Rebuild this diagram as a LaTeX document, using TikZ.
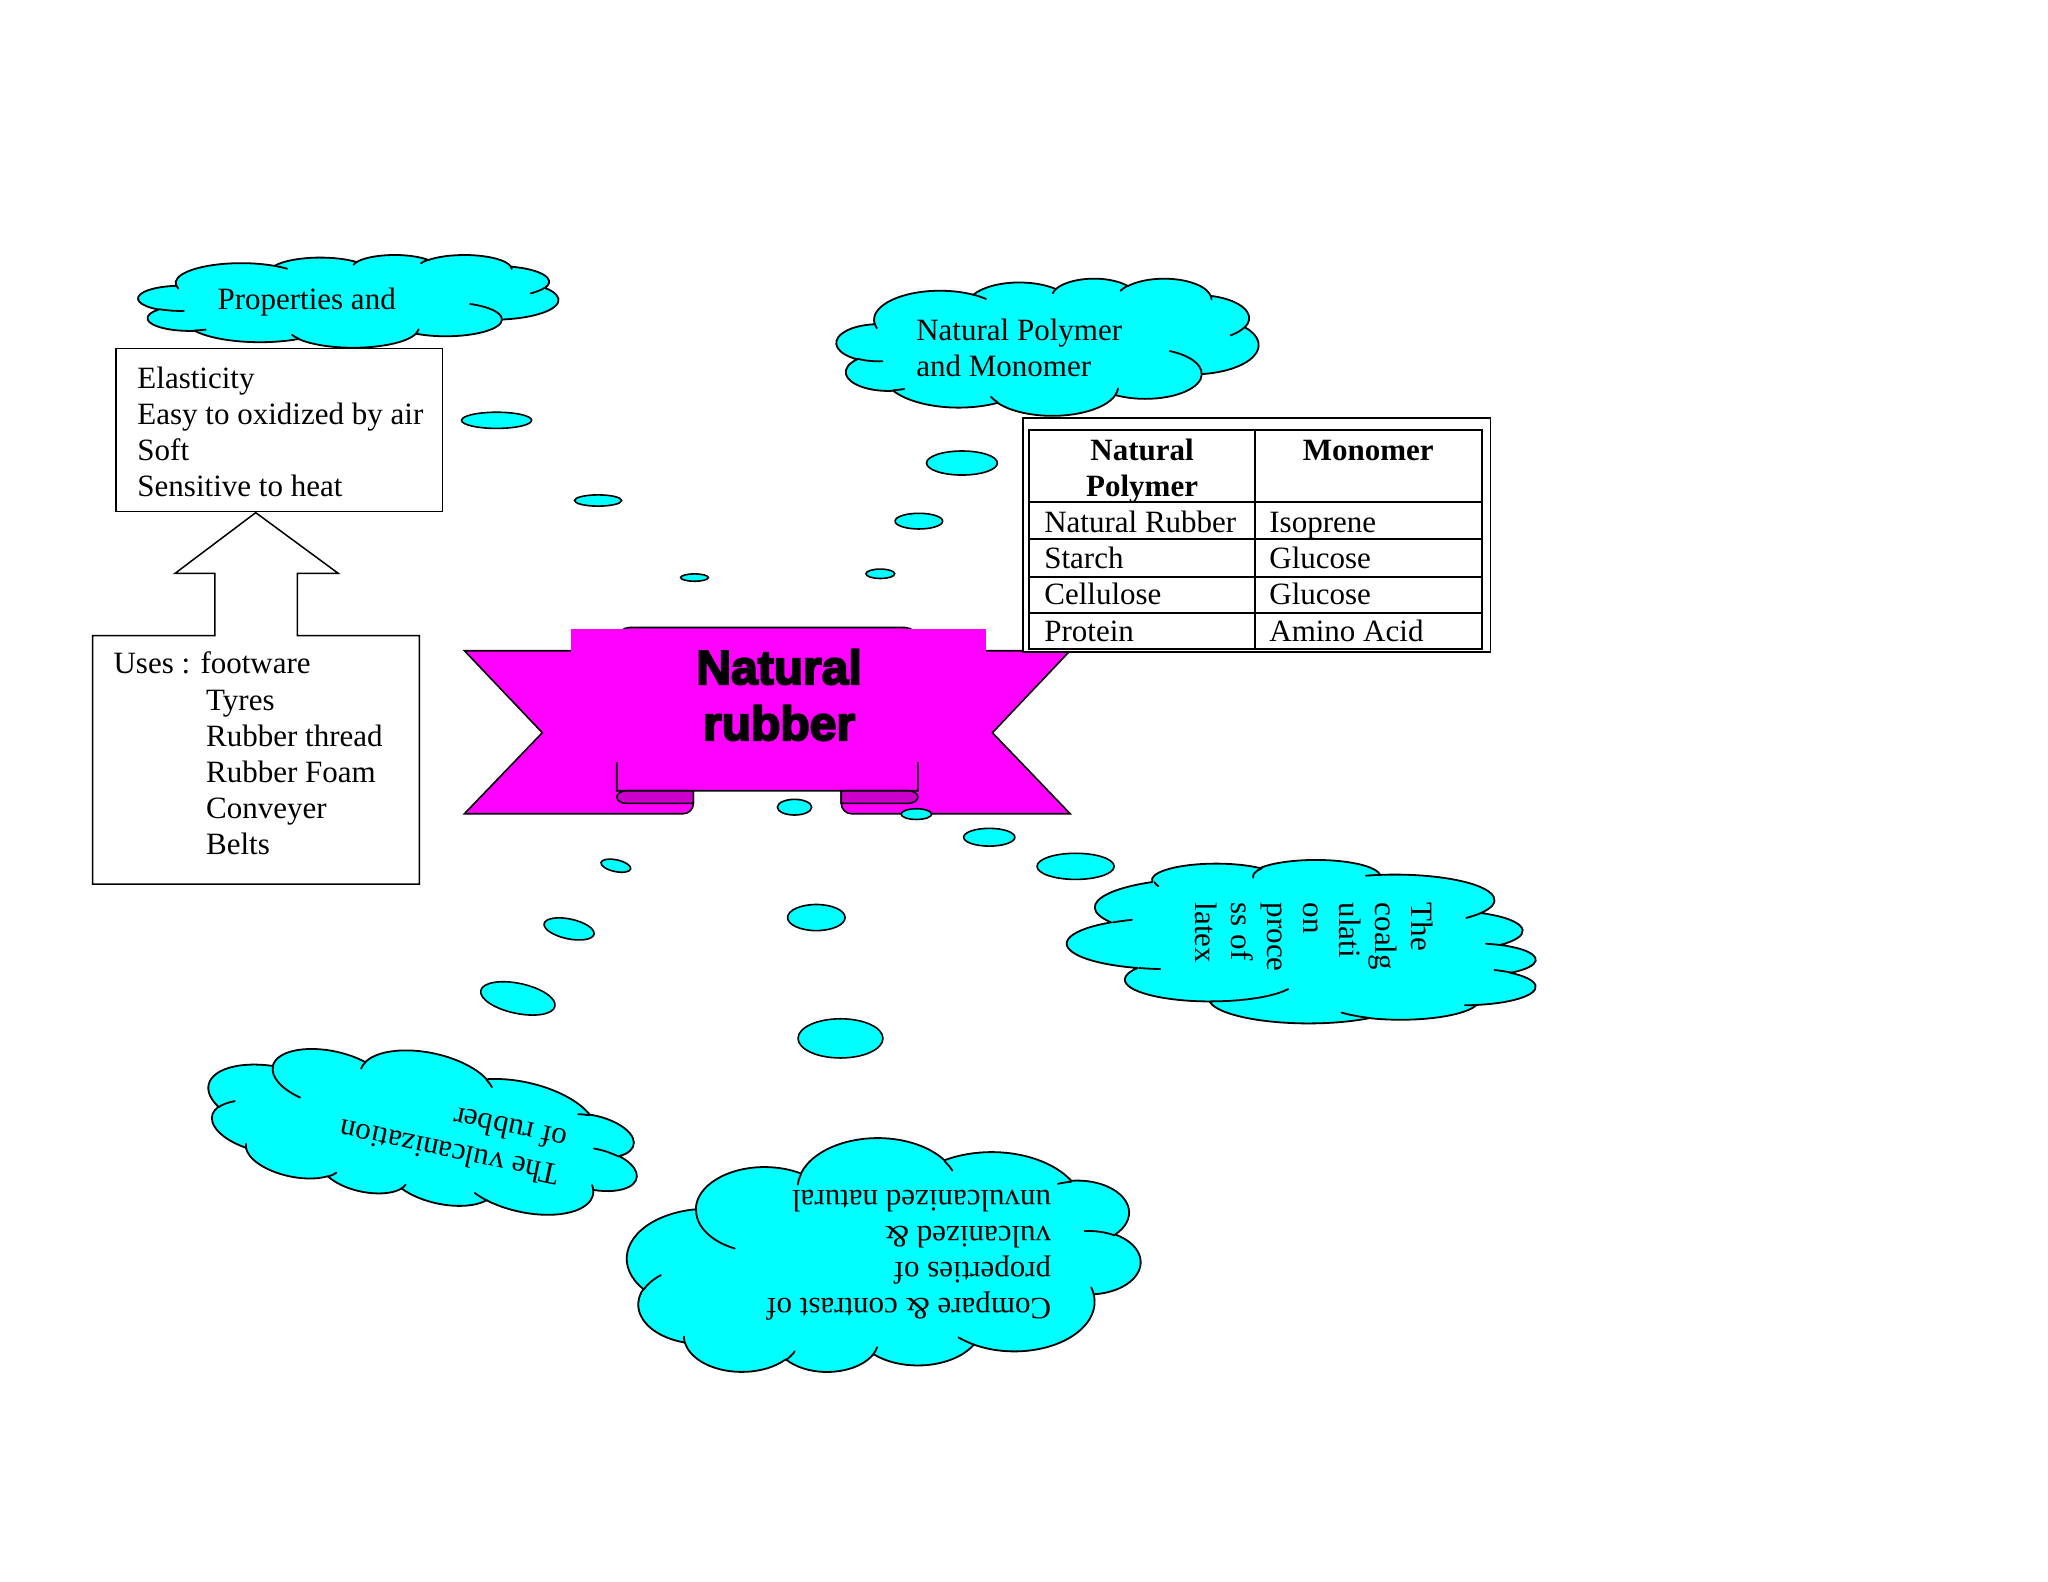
\documentclass[tikz,border=0pt]{standalone}
\usepackage{fontspec}
\setmainfont{Liberation Serif}
\newfontfamily\bannerfont[FakeBold=4]{Liberation Sans Bold}
\definecolor{cloudcyan}{RGB}{0,255,255}
\definecolor{ribbonmag}{RGB}{255,0,255}
\definecolor{folddark}{RGB}{204,0,204}

% OOXML arcTo (visual angles) -> TikZ arc style
\newcommand\defarc[5]{%
  \pgfmathsetmacro\tmpts{atan2((#2)*sin(#4),(#3)*cos(#4))}%
  \pgfmathsetmacro\tmpte{atan2((#2)*sin((#4)+(#5)),(#3)*cos((#4)+(#5)))}%
  \pgfmathsetmacro\tmpte{(\tmpte<\tmpts)?(\tmpte+360):(\tmpte)}%
  \edef\tmpdo{\noexpand\tikzset{#1/.style={start angle=\tmpts, end angle=\tmpte, x radius=#2, y radius=#3}}}%
  \tmpdo}
\defarc{cA}{67.53}{91.90}{-190.48748}{123.78053}
\defarc{cB}{53.33}{72.67}{-144.10238}{89.94523}
\defarc{cC}{43.65}{59.45}{-145.80792}{99.72302}
\defarc{cD}{48.57}{65.95}{-130.98607}{117.24173}
\defarc{cE}{53.33}{72.73}{-78.70888}{109.02692}
\defarc{cF}{67.75}{92.20}{-46.26725}{130.269}
\defarc{cG}{57.85}{78.67}{0.62502}{114.03333}
\defarc{cH}{67.52}{92.15}{22.4516}{115.17255}
\defarc{cI}{77.20}{105.43}{66.24263}{75.71102}
\defarc{cJ}{43.60}{59.18}{-274.94208}{146.73557}
\defarc{cK}{43.45}{59.45}{-246.8285}{152.51885}
\defarc{iA}{43.45}{59.45}{86.742}{26.4295}
\defarc{iB}{43.60}{59.18}{73.61047}{11.44747}
\defarc{iC}{67.52}{92.15}{137.62415}{14.0811}
\defarc{iD}{67.52}{92.15}{6.45327}{15.99835}
\defarc{iE}{57.85}{78.67}{-70.29235}{70.91737}
\defarc{iF}{53.33}{72.73}{30.31803}{27.7515}
\defarc{iG}{48.57}{65.95}{-13.74433}{14.8589}
\defarc{iH}{48.57}{65.95}{-149.18145}{18.19537}
\defarc{iI}{43.65}{59.45}{-163.49427}{17.68635}
\defarc{iJ}{67.53}{91.90}{-66.70695}{12.31935}
\defarc{iK}{67.53}{91.90}{157.65435}{11.85817}

\newcommand\cloudmain{(-177,-72.3) arc[cA] arc[cB] arc[cC] arc[cD] arc[cE] arc[cF] arc[cG] arc[cH] arc[cI] arc[cJ] arc[cK] -- cycle}
\newcommand\cloudinner{(-169.07,45.77) arc[iA] (-146.72,132.99) arc[iB] (-51.22,174.90) arc[iC] (72.27,131.51) arc[iD] (125.29,13.54) arc[iE] (201.98,-62.46) arc[iF] (167.24,-161.74) arc[iG] (74.78,-176.48) arc[iH] (5.41,-168.80) arc[iI] (-76.00,-164.08) arc[iJ] (-174.73,-58.11) arc[iK]}
\newcommand\cloudshape[5]{%
  \begin{scope}[shift={(#1,#2)},rotate=#5,xscale=#3/432,yscale=#4/432]
    \filldraw[cloudbody] \cloudmain;
    \draw[cloudrim] \cloudinner;
  \end{scope}}

\tikzset{
  cloudbody/.style={fill=cloudcyan, draw=black, line width=1.8pt, line join=round},
  cloudrim/.style={draw=black, line width=1.8pt, line cap=round},
  bubble/.style={fill=cloudcyan, draw=black, line width=1.6pt},
  ribbon/.style={fill=ribbonmag, draw=black, line width=1.6pt},
  foldpart/.style={fill=folddark, draw=black, line width=1.6pt},
  boxline/.style={fill=white, draw=black, line width=1.5pt},
  txt/.style={font=\fontsize{31}{36}\selectfont, inner sep=0pt, text=black},
  hdr/.style={txt, font=\fontsize{31}{36}\selectfont\bfseries},
  multi/.style={txt, align=left, anchor=north west},
  gridline/.style={draw=black, line width=2pt},
}

\begin{document}
\begin{tikzpicture}[x=1.30612pt,y=-1.30612pt]
\path[use as bounding box, fill=white] (0,0) rectangle (1568,1211);

% ---------- properties box ----------
\draw[boxline] (89,266.7) rectangle (338.7,391.8);
\node[multi] (proplist) at (105.1,280.8) {Elasticity\\Easy to oxidized by air\\Soft\\Sensitive to heat};

% ---------- uses box with up arrow ----------
\filldraw[boxline] (71,676.9) -- (71,486.7) -- (164.6,486.7) -- (164.6,439) -- (134,439)
  -- (195.8,392.5) -- (259,439) -- (227.7,439) -- (227.7,486.7) -- (321.1,486.7)
  -- (321.1,676.9) -- cycle;
\node[txt, anchor=base west] (usestitle) at (86.8,516) {Uses : footware};
\node[multi] (useslist) at (157.7,527.9) {Tyres\\Rubber thread\\Rubber Foam\\Conveyer\\Belts};

% ---------- banner ----------
\filldraw[ribbon] (355.6,498.2) -- (530.9,498.2) -- (530.9,615.1)
  arc[start angle=0, end angle=90, x radius=7.8, y radius=7.9] -- (355.6,623) -- (415.2,561) -- cycle;
\filldraw[ribbon] (819.3,498.2) -- (644.1,498.2) -- (644.1,615.1)
  arc[start angle=180, end angle=90, x radius=7.8, y radius=7.9] -- (819.3,623) -- (759.8,561) -- cycle;
\filldraw[ribbon] (472.2,605.4) -- (472.2,490.4) arc[start angle=180, end angle=270, radius=10]
  -- (692.7,480.4) arc[start angle=270, end angle=360, radius=10] -- (702.7,605.4) -- cycle;
\fill[ribbonmag] (436.8,481.4) rectangle (755.2,583.2);
\filldraw[foldpart] (530.9,605.4) -- (480,605.4)
  arc[start angle=270, end angle=90, x radius=7.8, y radius=4.85] -- (530.9,615.1) -- cycle;
\filldraw[foldpart] (644.1,605.4) -- (695,605.4)
  arc[start angle=-90, end angle=90, x radius=7.8, y radius=4.85] -- (644.1,615.1) -- cycle;
\node[inner sep=0pt, align=center, anchor=north, font=\bannerfont\fontsize{48}{56}\selectfont]
  (bannertext) at (596.5,497) {Natural\\rubber};

% ---------- callout bubbles ----------
\draw[bubble] (380.2,321.8) ellipse[x radius=26.8, y radius=6.2];
\draw[bubble] (457.9,383.2) ellipse[x radius=18, y radius=4.3];
\draw[bubble] (531.7,442.2) ellipse[x radius=10.6, y radius=2.8];
\draw[bubble] (736.5,354.5) ellipse[x radius=27.1, y radius=9.2];
\draw[bubble] (703.5,399) ellipse[x radius=18.2, y radius=6];
\draw[bubble] (674,439.3) ellipse[x radius=11, y radius=3.6];
\draw[bubble] (823.5,663.3) ellipse[x radius=29.5, y radius=10];
\draw[bubble] (757.4,641) ellipse[x radius=19.6, y radius=6.8];
\draw[bubble] (701.6,623.3) ellipse[x radius=11.7, y radius=4.1];
\draw[bubble, rotate around={-12:(396.5,764.4)}] (396.5,764.4) ellipse[x radius=29, y radius=11.5];
\draw[bubble, rotate around={-12:(435.7,711.2)}] (435.7,711.2) ellipse[x radius=19.5, y radius=7.6];
\draw[bubble, rotate around={-12:(471.5,662.8)}] (471.5,662.8) ellipse[x radius=11.6, y radius=4.5];
\draw[bubble] (643.5,795) ellipse[x radius=32.5, y radius=15];
\draw[bubble] (625,702.5) ellipse[x radius=22, y radius=10];
\draw[bubble] (608.3,618) ellipse[x radius=13.1, y radius=6];

% ---------- clouds ----------
\cloudshape{266.7}{230.5}{321.6}{71}{0}
\node[txt, anchor=base west] (proptitle) at (166.4,236.6) {Properties and};

\cloudshape{802}{265.5}{323}{105}{0}
\node[multi] (nptitle) at (701.4,244.1) {Natural Polymer\\and Monomer};

\cloudshape{997.5}{721}{125}{359}{-90}
\node[multi, rotate=-90] (coagtext) at (1097,691) {The\\coalg\\ulati\\on\\proce\\ss of\\latex};

\cloudshape{324}{864}{335}{115}{168}
\node[multi, rotate=168] (vulctext) at (426,909) {The vulcanization\\of rubber};

\cloudshape{676.5}{961.5}{393}{179}{180}
\node[multi, rotate=180] (comptext) at (805,1011) {Compare \& contrast of\\properties of\\vulcanized \&\\unvulcanized natural};

% ---------- table ----------
\filldraw[fill=white, draw=black, line width=1.2pt] (783.3,320) rectangle (1140.9,499.2);
\draw[gridline] (787.9,329.2) rectangle (1134.8,496.9);
\draw[gridline] (960.9,329.2) -- (960.9,496.9);
\draw[gridline] (787.9,384.4) -- (1134.8,384.4);
\draw[gridline] (787.9,412.7) -- (1134.8,412.7);
\draw[gridline] (787.9,441.8) -- (1134.8,441.8);
\draw[gridline] (787.9,469.4) -- (1134.8,469.4);
\node[hdr, align=center, anchor=north] (hpoly) at (874.4,336.2) {Natural\\Polymer};
\node[hdr, anchor=base] (hmono) at (1047.5,352.2) {Monomer};
\node[txt, anchor=base west] (r1a) at (799.4,407.6) {Natural Rubber};
\node[txt, anchor=base west] (r1b) at (971.7,407.6) {Isoprene};
\node[txt, anchor=base west] (r2a) at (799.4,435.2) {Starch};
\node[txt, anchor=base west] (r2b) at (971.7,435.2) {Glucose};
\node[txt, anchor=base west] (r3a) at (799.4,463.2) {Cellulose};
\node[txt, anchor=base west] (r3b) at (971.7,463.2) {Glucose};
\node[txt, anchor=base west] (r4a) at (799.4,491.3) {Protein};
\node[txt, anchor=base west] (r4b) at (971.7,491.3) {Amino Acid};
\end{tikzpicture}
\end{document}
